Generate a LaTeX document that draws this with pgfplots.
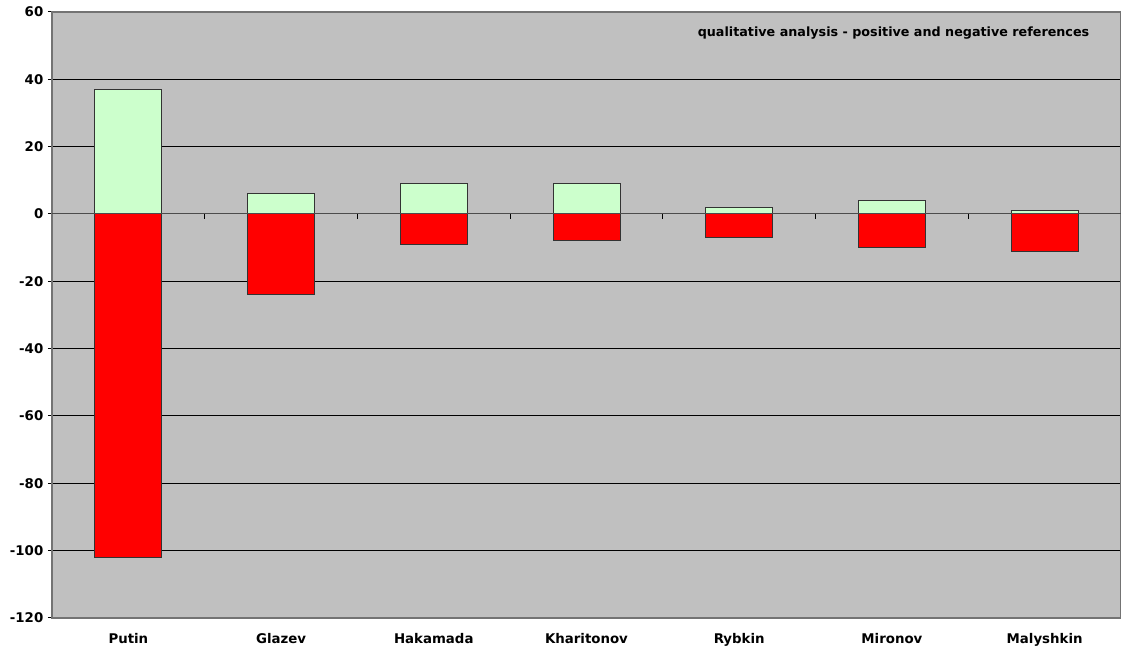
\documentclass[border=0pt]{standalone}
\usepackage{pgfplots}
\pgfplotsset{compat=1.18}
\usepackage{fontspec}
\setmainfont{DejaVu Sans}
\definecolor{bg}{HTML}{C0C0C0}
\definecolor{pos}{HTML}{CCFFCC}
\definecolor{negc}{HTML}{FF0000}
\begin{document}
\begin{tikzpicture}
\begin{axis}[
  name=main,
  scale only axis,
  width=801.75pt, height=454.5pt,
  xmin=-0.5, xmax=6.5,
  ymin=-120, ymax=60,
  ytick={-120,-100,...,60},
  xtick={0,...,6},
  xticklabels={Putin,Glazev,Hakamada,Kharitonov,Rybkin,Mironov,Malyshkin},
  x tick label style={font=\fontsize{10}{12}\selectfont\bfseries, yshift=-5pt},
  y tick label style={font=\fontsize{10}{12}\selectfont\bfseries},
  /pgf/number format/assume math mode=true,
  major x tick style={draw=none},
  y tick style={black, line width=0.75pt},
  tick align=outside,
  major tick length=3pt,
  axis background/.style={fill=bg},
  axis line style={draw=black!55, line width=0.9pt},
  ymajorgrids,
  grid style={black, line width=0.75pt},
  ybar, bar width=50.25pt, bar shift=0pt,
  axis on top=false,
  clip=false,
]
\addplot[fill=pos, draw=black!80, line width=0.75pt] coordinates {(0,37) (1,6) (2,9) (3,9) (4,2) (5,4) (6,1)};
\addplot[fill=negc, draw=black!80, line width=0.75pt] coordinates {(0,-102) (1,-24) (2,-9) (3,-8) (4,-7) (5,-10) (6,-11)};
\draw[black!70, line width=0.75pt] (axis cs:-0.5,0) -- (axis cs:6.5,0);
\pgfplotsinvokeforeach{0.5,1.5,2.5,3.5,4.5,5.5}{
  \draw[black, line width=0.8pt] (axis cs:#1,0) -- ([yshift=-3.5pt]axis cs:#1,0);
}
\node[anchor=east, font=\fontsize{9.55}{11}\selectfont\bfseries] at (rel axis cs:0.9747,0.965) {qualitative analysis - positive and negative references};
\end{axis}
\pgfresetboundingbox
\path[use as bounding box] ([xshift=-39pt, yshift=-27.75pt]main.south west) rectangle ([yshift=9pt]main.north east);
\end{tikzpicture}
\end{document}
